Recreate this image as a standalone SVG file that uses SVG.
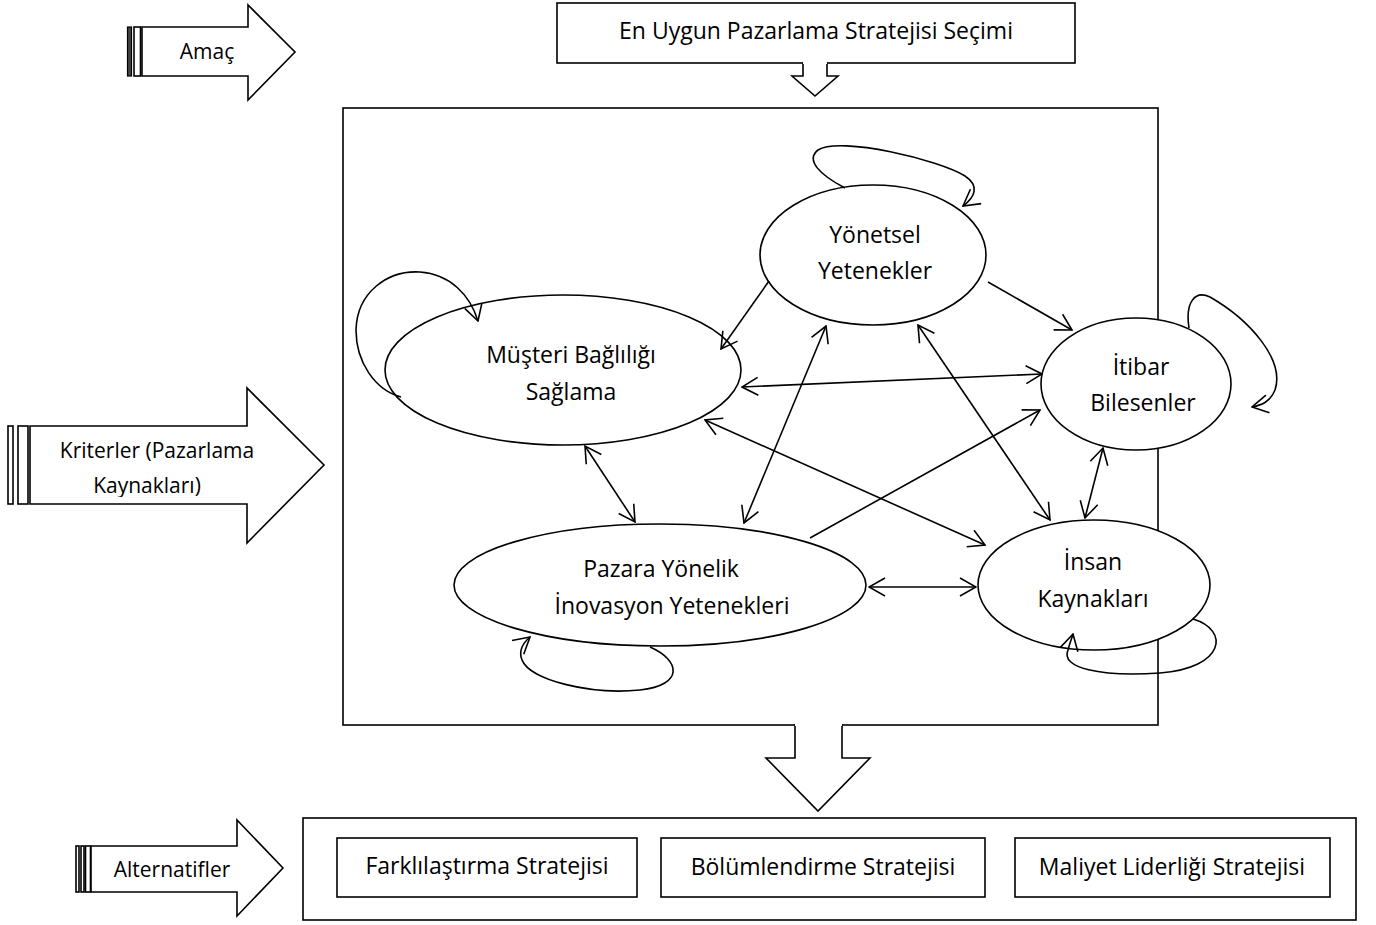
<svg xmlns="http://www.w3.org/2000/svg" width="1376" height="925" viewBox="0 0 1376 925">
<style>
.s{fill:#fff;stroke:#000;stroke-width:1.6}
.d{fill:#444;stroke:#000;stroke-width:1.2}
.t{font-family:"Open Sans","Liberation Sans",sans-serif;font-size:23px;fill:#000;text-anchor:middle}
.sm{font-size:21px}
.c path,.c line{fill:none;stroke:#000;stroke-width:1.6}
</style>
<defs>
<marker id="ah" viewBox="0 0 18 20" refX="17" refY="10" markerWidth="18" markerHeight="20" markerUnits="userSpaceOnUse" orient="auto-start-reverse">
<path d="M1,1 L17,10 L1,19" fill="none" stroke="#000" stroke-width="1.6"/>
</marker>
<clipPath id="kclip"><rect x="30" y="400" width="300" height="97"/></clipPath>
</defs>
<rect width="1376" height="925" fill="#fff"/>

<g id="amac">
<rect class="d" x="127.5" y="27" width="4" height="49"/>
<rect class="s" x="134" y="27" width="6.5" height="49"/>
<polygon class="s" points="142,27 248,27 248,5 295,52 248,100 248,76 142,76"/>
<text class="t sm" x="207" y="59">Amaç</text>
</g>

<g id="goal">
<rect class="s" x="557" y="3" width="518" height="60"/>
<polygon class="s" points="803,63 803,76 792,76 815,96 838,76 827,76 827,63"/>
<line x1="803" y1="63" x2="827" y2="63" stroke="#fff" stroke-width="2"/>
<text class="t" x="816" y="39">En Uygun Pazarlama Stratejisi Seçimi</text>
</g>

<g id="kriterler">
<rect class="s" x="8" y="426" width="5" height="78"/>
<rect class="s" x="18" y="426" width="10" height="78"/>
<polygon class="s" points="30,426 247,426 247,388 324,465 247,543 247,504 30,504"/>
<g clip-path="url(#kclip)">
<text class="t sm" x="157" y="458">Kriterler (Pazarlama</text>
<text class="t sm" x="147" y="493">Kaynakları)</text>
</g>
</g>

<g id="mainbox">
<rect class="s" x="343" y="108" width="815" height="617"/>
</g>

<g id="yonetsel">
<ellipse class="s" cx="873" cy="255" rx="113" ry="70"/>
<text class="t" x="875" y="243">Yönetsel</text>
<text class="t" x="875" y="279">Yetenekler</text>
</g>

<g id="musteri">
<ellipse class="s" cx="563" cy="370" rx="178" ry="75"/>
<text class="t" x="571" y="363">Müşteri Bağlılığı</text>
<text class="t" x="571" y="400">Sağlama</text>
</g>

<g id="itibar">
<ellipse class="s" cx="1136" cy="384" rx="95" ry="66"/>
<text class="t" x="1141" y="375">İtibar</text>
<text class="t" x="1143" y="411">Bilesenler</text>
</g>

<g id="pazara">
<ellipse class="s" cx="660" cy="585" rx="206" ry="61"/>
<text class="t" x="661" y="577">Pazara Yönelik</text>
<text class="t" x="672" y="614">İnovasyon Yetenekleri</text>
</g>

<g id="insan">
<ellipse class="s" cx="1094" cy="585" rx="116" ry="65"/>
<text class="t" x="1093" y="570">İnsan</text>
<text class="t" x="1093" y="607">Kaynakları</text>
</g>

<g id="connectors" class="c">
<path d="M401,397 C375,390 356,362 356,330 C357,292 388,270 420,272 C450,274 470,295 478,321" marker-end="url(#ah)"/>
<path d="M845,188 C820,175 805,160 818,150 C840,136 940,160 965,176 C980,186 975,197 963,206" marker-end="url(#ah)"/>
<path d="M1189,328 C1185,302 1195,290 1210,297 C1250,320 1285,360 1275,390 C1270,402 1262,405 1252,407" marker-end="url(#ah)"/>
<path d="M650,647 C680,660 685,685 640,690 C590,695 530,680 522,660 C518,650 523,643 530,637" marker-end="url(#ah)"/>
<path d="M1193,619 C1230,630 1225,668 1160,673 C1100,677 1060,668 1068,650 C1070,642 1072,638 1073,634" marker-end="url(#ah)"/>
<line x1="769" y1="281" x2="721" y2="349" marker-end="url(#ah)"/>
<line x1="988" y1="282" x2="1072" y2="330" marker-end="url(#ah)"/>
<line x1="742" y1="387" x2="1042" y2="374" marker-start="url(#ah)" marker-end="url(#ah)"/>
<line x1="585" y1="446" x2="635" y2="522" marker-start="url(#ah)" marker-end="url(#ah)"/>
<line x1="826" y1="326" x2="744" y2="523" marker-start="url(#ah)" marker-end="url(#ah)"/>
<line x1="705" y1="420" x2="985" y2="545" marker-start="url(#ah)" marker-end="url(#ah)"/>
<line x1="918" y1="325" x2="1050" y2="520" marker-start="url(#ah)" marker-end="url(#ah)"/>
<line x1="810" y1="538" x2="1040" y2="410" marker-end="url(#ah)"/>
<line x1="1103" y1="448" x2="1085" y2="518" marker-start="url(#ah)" marker-end="url(#ah)"/>
<line x1="869" y1="587" x2="976" y2="587" marker-start="url(#ah)" marker-end="url(#ah)"/>
</g>

<g id="downarrow">
<polygon class="s" points="795,725 795,758 766,758 818,811 870,758 842,758 842,725"/>
<line x1="795" y1="725" x2="842" y2="725" stroke="#fff" stroke-width="2.2"/>
</g>

<g id="alternatifler">
<rect class="s" x="76" y="846" width="3" height="46"/>
<rect class="s" x="81" y="846" width="3" height="46"/>
<rect class="s" x="85.5" y="846" width="5" height="46"/>
<polygon class="s" points="91,846 237,846 237,820 283,868 237,916 237,892 91,892"/>
<text class="t sm" x="172" y="877">Alternatifler</text>
</g>

<g id="altbox">
<rect class="s" x="303" y="818" width="1053" height="102"/>
</g>
<g id="farklilastirma">
<rect class="s" x="337" y="838" width="300" height="59"/>
<text class="t" x="487" y="874">Farklılaştırma Stratejisi</text>
</g>
<g id="bolumlendirme">
<rect class="s" x="661" y="838" width="324" height="59"/>
<text class="t" x="823" y="875">Bölümlendirme Stratejisi</text>
</g>
<g id="maliyet">
<rect class="s" x="1015" y="838" width="315" height="59"/>
<text class="t" x="1172" y="875">Maliyet Liderliği Stratejisi</text>
</g>
</svg>
